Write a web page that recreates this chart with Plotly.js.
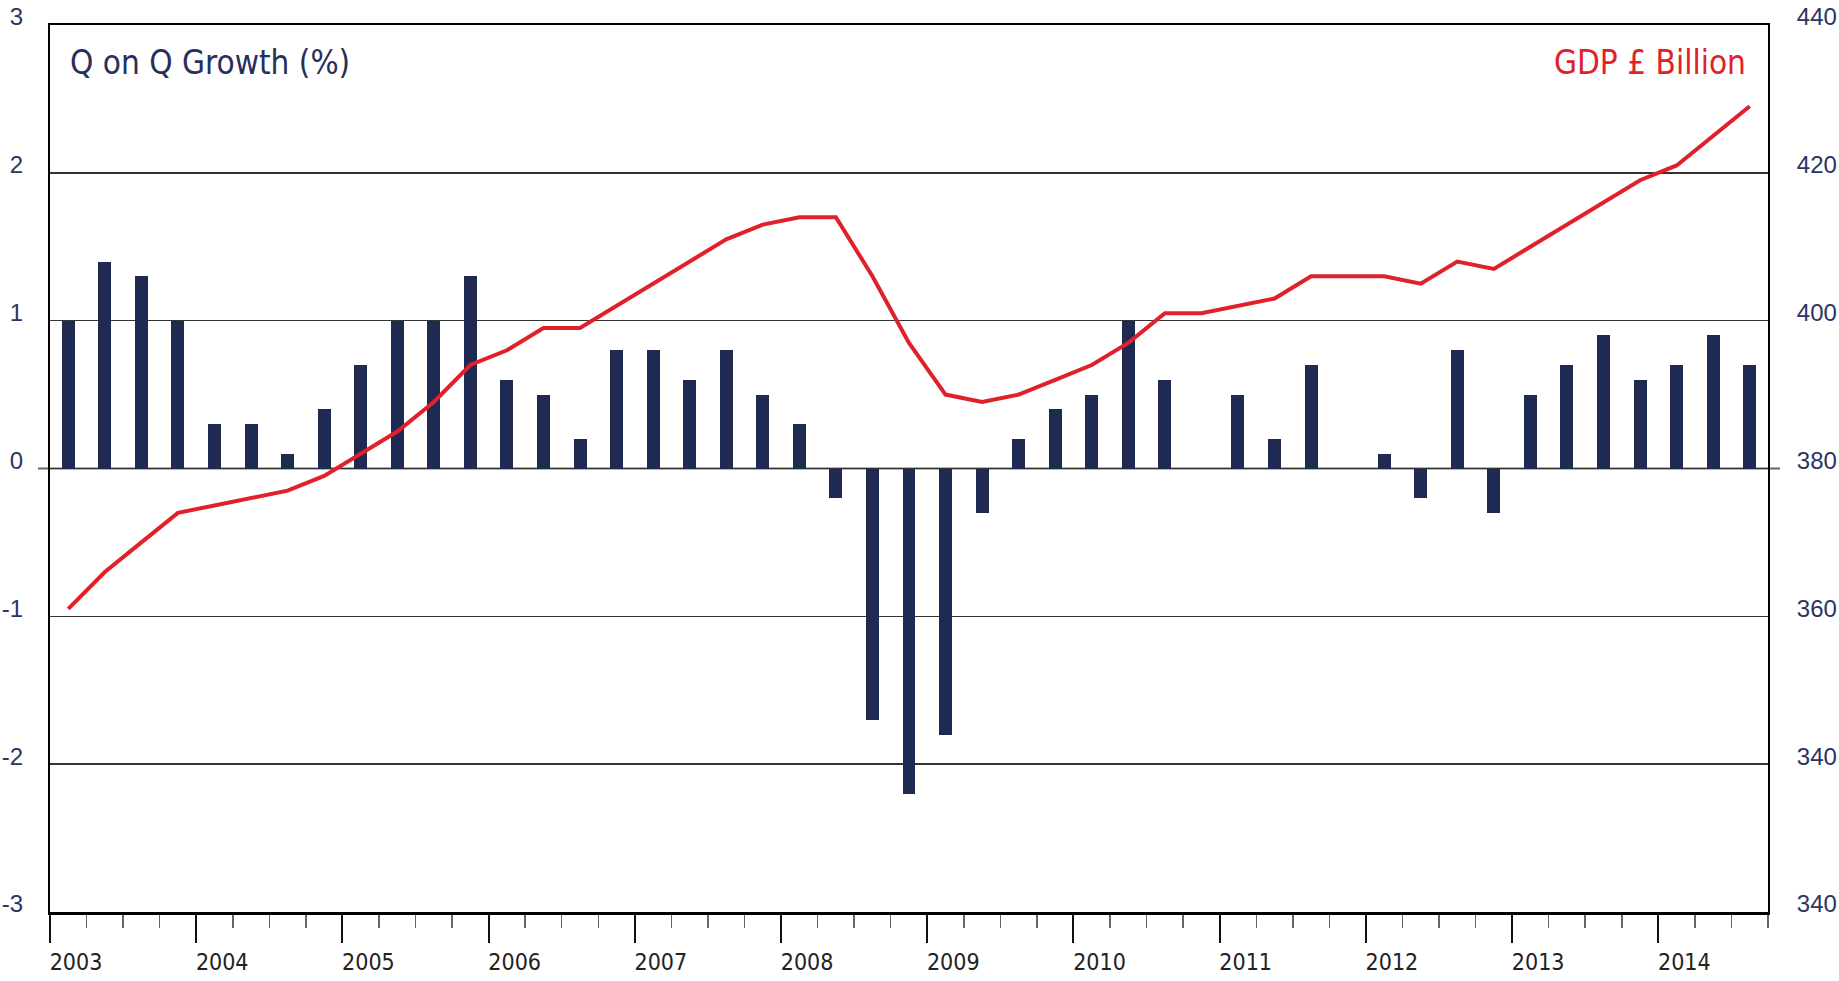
<!DOCTYPE html>
<html>
<head>
<meta charset="utf-8">
<script src="https://cdn.plot.ly/plotly-3.0.1.min.js"></script>
<style>
  html, body { margin: 0; padding: 0; background: #fff; }
  #chart { width: 1839px; height: 981px; }
</style>
</head>
<body>
<div id="chart"></div>
<script>
// UK quarterly growth (%) and GDP (£ billion), 2003 Q1 - 2014 Q3
const growth = [
    1.0, 1.4, 1.3, 1.0,     // 2003
    0.3, 0.3, 0.1, 0.4,     // 2004
    0.7, 1.0, 1.0, 1.3,     // 2005
    0.6, 0.5, 0.2, 0.8,     // 2006
    0.8, 0.6, 0.8, 0.5,     // 2007
    0.3, -0.2, -1.7, -2.2,  // 2008
    -1.8, -0.3, 0.2, 0.4,   // 2009
    0.5, 1.0, 0.6, 0.0,     // 2010
    0.5, 0.2, 0.7, 0.0,     // 2011
    0.1, -0.2, 0.8, -0.3,   // 2012
    0.5, 0.7, 0.9, 0.6,     // 2013
    0.7, 0.9, 0.7           // 2014
];

const gdp = [
    361, 366, 370, 374,
    375, 376, 377, 379,
    382, 385, 389, 394,
    396, 399, 399, 402,
    405, 408, 411, 413,
    414, 414, 406, 397,
    390, 389, 390, 392,
    394, 397, 401, 401,
    402, 403, 406, 406,
    406, 405, 408, 407,
    410, 413, 416, 419,
    421, 425, 429
];

const years = ['2003', '2004', '2005', '2006', '2007', '2008', '2009',
               '2010', '2011', '2012', '2013', '2014'];
const leftTicks = [3, 2, 1, 0, -1, -2, -3];
const leftLabels = ['3', '2', '1', '0', '-1', '-2', '-3'];
const rightTicks = [440, 420, 400, 380, 360, 340, 320];
const rightLabels = ['440', '420', '400', '380', '360', '340', '340'];

// each quarter takes one unit on the x axis, marks sit in the middle
const xPos = growth.map((_, i) => i + 0.5);
const nQuarters = growth.length;

const navy = '#1f2a52';
const red = '#e0212a';
const narrow = '"Liberation Sans Narrow", "DejaVu Sans Condensed", sans-serif';
const tickFont = { family: '"Liberation Sans", Arial, sans-serif', size: 24, color: '#2c3461' };

const data = [{
    type: 'bar',
    x: xPos,
    y: growth,
    width: 0.355,
    marker: { color: navy, line: { width: 0 } },
    hoverinfo: 'y'
}, {
    type: 'scatter',
    mode: 'lines',
    x: xPos,
    y: gdp,
    yaxis: 'y2',
    line: { color: red, width: 4 },
    hoverinfo: 'y'
}];

const minorVals = [];
for (let q = 0; q <= nQuarters; q++) minorVals.push(q);

const layout = {
    width: 1839,
    height: 981,
    margin: { l: 50, r: 71, t: 25, b: 69 },
    paper_bgcolor: '#fff',
    plot_bgcolor: '#fff',
    showlegend: false,
    bargap: 0,
    xaxis: {
        range: [0, nQuarters],
        tickmode: 'array',
        tickvals: years.map((_, i) => i * 4),
        ticktext: years,
        ticks: 'outside',
        ticklen: 28,
        tickwidth: 2,
        tickcolor: '#111',
        ticklabelshift: 26,
        ticklabelstandoff: 0,
        tickfont: { family: narrow, size: 23, color: '#222' },
        minor: {
            tickmode: 'array',
            tickvals: minorVals,
            ticks: 'outside',
            ticklen: 13,
            tickwidth: 1.5,
            tickcolor: '#666',
            showgrid: false
        },
        showgrid: false,
        zeroline: false,
        showline: true,
        linecolor: '#000',
        linewidth: 2.5,
        mirror: true
    },
    yaxis: {
        range: [-3, 3],
        tickmode: 'array',
        tickvals: leftTicks,
        ticktext: leftLabels,
        ticks: '',
        ticklabelshift: -8,
        ticklabelstandoff: 20,
        tickfont: tickFont,
        showgrid: true,
        gridcolor: '#333',
        gridwidth: 1.4,
        zeroline: false,
        showline: true,
        linecolor: '#000',
        linewidth: 2
    },
    yaxis2: {
        overlaying: 'y',
        side: 'right',
        range: [320, 440],
        tickmode: 'array',
        tickvals: rightTicks,
        ticktext: rightLabels,
        ticks: '',
        ticklabelshift: -8,
        ticklabelstandoff: 22,
        tickfont: tickFont,
        showgrid: false,
        zeroline: false,
        showline: true,
        linecolor: '#000',
        linewidth: 2
    },
    shapes: [{
        // zero line, poking out past both axes
        type: 'line',
        xref: 'paper', yref: 'y',
        x0: -0.007, x1: 1.007,
        y0: 0, y1: 0,
        line: { color: '#666', width: 2 },
        layer: 'below'
    }],
    annotations: [{
        text: 'Q on Q Growth (%)',
        xref: 'paper', yref: 'paper',
        x: 0.0105, y: 0.958,
        xanchor: 'left', yanchor: 'middle',
        showarrow: false,
        font: { family: narrow, size: 33, color: '#272f5a' }
    }, {
        text: 'GDP £ Billion',
        xref: 'paper', yref: 'paper',
        x: 0.9884, y: 0.958,
        xanchor: 'right', yanchor: 'middle',
        showarrow: false,
        font: { family: narrow, size: 33, color: red }
    }]
};

Plotly.newPlot('chart', data, layout, { displayModeBar: false, staticPlot: true });
</script>
</body>
</html>
